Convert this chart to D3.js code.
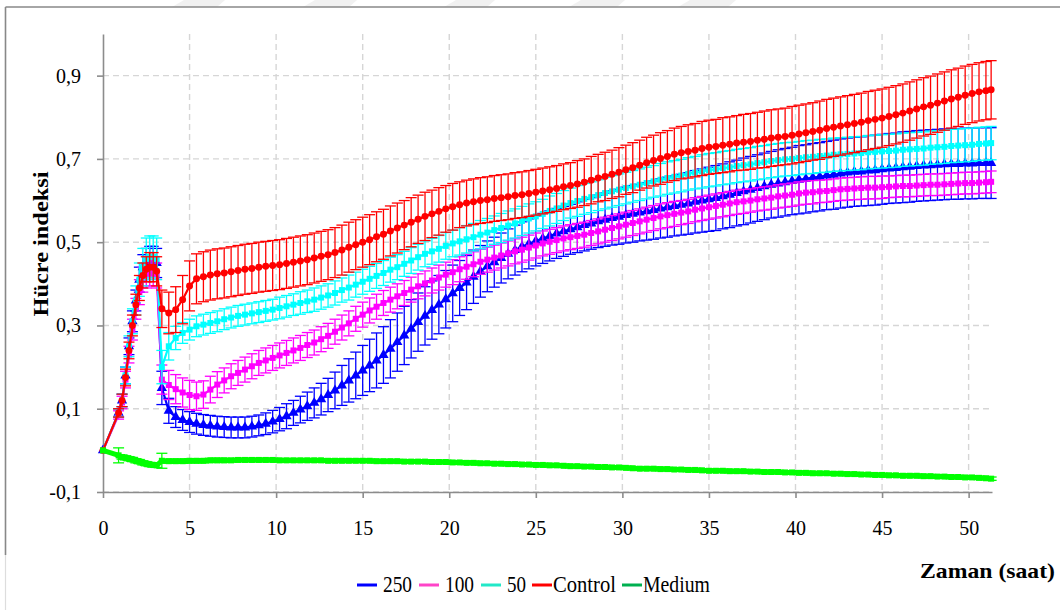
<!DOCTYPE html>
<html><head><meta charset="utf-8">
<script src="https://cdn.jsdelivr.net/npm/d3@7"></script>
<style>
body{margin:0;background:#fff}
.serif{font-family:"Liberation Serif","Times New Roman",Times,Tinos,"Nimbus Roman","Nimbus Roman No9 L",FreeSerif,"DejaVu Serif","Noto Serif",Georgia,serif}
</style>
</head><body><svg id="c" width="1060" height="610"></svg>
<script>
// ---------------- DATA ----------------
const times = [0,0.9,1.1,1.3,1.5,1.7,1.9,2.1,2.3,2.5,2.7,2.9,3.1,
 3.4,3.8,4.2,4.6,5.0,5.4,5.8,6.2,6.6,7.0,
 7.4,7.8,8.2,8.6,9.0,9.4,9.8,10.2,10.6,11.0,
 11.4,11.8,12.2,12.6,13.0,13.4,13.8,14.2,14.6,15.0,
 15.4,15.8,16.2,16.6,17.0,17.4,17.8,18.2,18.6,19.0,
 19.4,19.8,20.2,20.6,21.0,21.4,21.8,22.2,22.6,23.0,
 23.4,23.8,24.2,24.6,25.0,25.4,25.8,26.2,26.6,27.0,
 27.4,27.8,28.2,28.6,29.0,29.4,29.8,30.2,30.6,31.0,
 31.4,31.8,32.2,32.6,33.0,33.4,33.8,34.2,34.6,35.0,
 35.4,35.8,36.2,36.6,37.0,37.4,37.8,38.2,38.6,39.0,
 39.4,39.8,40.2,40.6,41.0,41.4,41.8,42.2,42.6,43.0,
 43.4,43.8,44.2,44.6,45.0,45.4,45.8,46.2,46.6,47.0,
 47.4,47.8,48.2,48.6,49.0,49.4,49.8,50.2,50.6,51.0,
 51.3];

const seriesNames = ["250","100","50","Control","Medium"];

const v250 = [0,0.09,0.12,0.18,0.25,0.31,0.36,0.41,0.44,0.45,0.455,0.455,0.45,
 0.15,0.095,0.08,0.073,0.068,0.064,0.061,0.059,0.057,0.056,
 0.055,0.055,0.055,0.057,0.06,0.064,0.069,0.075,0.082,0.09,
 0.098,0.106,0.114,0.123,0.133,0.144,0.156,0.168,0.18,0.192,
 0.204,0.216,0.229,0.244,0.26,0.276,0.292,0.308,0.323,0.337,
 0.35,0.363,0.377,0.39,0.403,0.417,0.43,0.442,0.452,0.462,
 0.472,0.481,0.489,0.496,0.503,0.509,0.515,0.521,0.526,0.531,
 0.536,0.541,0.545,0.55,0.554,0.558,0.561,0.565,0.568,0.571,
 0.574,0.577,0.581,0.584,0.587,0.59,0.593,0.597,0.6,0.603,
 0.606,0.61,0.614,0.618,0.622,0.626,0.63,0.634,0.638,0.641,
 0.644,0.647,0.65,0.652,0.655,0.657,0.66,0.662,0.665,0.667,
 0.669,0.67,0.672,0.673,0.675,0.677,0.678,0.68,0.681,0.683,
 0.684,0.685,0.686,0.687,0.688,0.688,0.689,0.689,0.69,0.69,
 0.69];
const e250 = [0,0.01,0.015,0.02,0.02,0.025,0.025,0.03,0.03,0.035,0.035,0.035,0.035,
 0.04,0.03,0.025,0.025,0.025,0.025,0.025,0.025,0.025,0.025,
 0.025,0.025,0.025,0.025,0.025,0.026,0.027,0.028,0.03,0.03,
 0.032,0.034,0.036,0.038,0.04,0.044,0.048,0.052,0.056,0.06,
 0.063,0.066,0.068,0.07,0.07,0.07,0.07,0.07,0.07,0.07,
 0.07,0.069,0.068,0.066,0.065,0.064,0.062,0.061,0.06,0.06,
 0.06,0.06,0.06,0.06,0.06,0.06,0.06,0.06,0.06,0.06,
 0.061,0.062,0.062,0.063,0.064,0.065,0.066,0.067,0.068,0.068,
 0.069,0.07,0.071,0.072,0.072,0.073,0.074,0.075,0.076,0.077,
 0.078,0.078,0.079,0.079,0.08,0.08,0.08,0.08,0.08,0.081,
 0.081,0.081,0.082,0.082,0.082,0.082,0.082,0.083,0.083,0.083,
 0.083,0.083,0.084,0.084,0.084,0.084,0.084,0.085,0.085,0.085,
 0.085,0.085,0.085,0.085,0.085,0.085,0.085,0.085,0.085,0.085,
 0.085];

const v100 = [0,0.085,0.115,0.17,0.23,0.29,0.34,0.38,0.41,0.42,0.425,0.425,0.42,
 0.17,0.157,0.147,0.139,0.133,0.13,0.134,0.146,0.158,0.168,
 0.178,0.186,0.194,0.202,0.21,0.216,0.222,0.228,0.234,0.24,
 0.246,0.253,0.259,0.267,0.275,0.285,0.295,0.305,0.316,0.326,
 0.336,0.345,0.354,0.362,0.37,0.378,0.386,0.394,0.401,0.408,
 0.415,0.422,0.428,0.435,0.441,0.447,0.453,0.458,0.463,0.468,
 0.473,0.478,0.482,0.487,0.492,0.497,0.501,0.505,0.509,0.512,
 0.515,0.518,0.522,0.526,0.53,0.534,0.538,0.542,0.546,0.55,
 0.554,0.558,0.562,0.565,0.568,0.571,0.574,0.578,0.581,0.584,
 0.587,0.59,0.593,0.596,0.598,0.6,0.603,0.605,0.607,0.61,
 0.612,0.614,0.617,0.619,0.62,0.622,0.623,0.625,0.627,0.628,
 0.629,0.63,0.631,0.631,0.632,0.633,0.634,0.635,0.635,0.636,
 0.637,0.638,0.638,0.639,0.64,0.641,0.642,0.642,0.643,0.644,
 0.645];
const e100 = [0,0.01,0.015,0.02,0.02,0.025,0.025,0.03,0.03,0.03,0.03,0.03,0.03,
 0.035,0.035,0.035,0.035,0.035,0.034,0.033,0.032,0.031,0.03,
 0.03,0.03,0.03,0.03,0.03,0.03,0.03,0.03,0.03,0.03,
 0.03,0.03,0.03,0.03,0.03,0.03,0.03,0.03,0.03,0.03,
 0.03,0.03,0.03,0.03,0.03,0.03,0.03,0.03,0.03,0.03,
 0.03,0.03,0.03,0.03,0.03,0.03,0.03,0.03,0.03,0.03,
 0.03,0.03,0.03,0.03,0.03,0.03,0.03,0.03,0.03,0.03,
 0.03,0.03,0.03,0.03,0.03,0.03,0.03,0.03,0.03,0.03,
 0.03,0.03,0.03,0.03,0.03,0.029,0.029,0.029,0.029,0.029,
 0.029,0.029,0.029,0.029,0.029,0.028,0.028,0.028,0.028,0.028,
 0.028,0.028,0.028,0.028,0.028,0.027,0.027,0.027,0.027,0.027,
 0.027,0.027,0.027,0.027,0.027,0.026,0.026,0.026,0.026,0.026,
 0.026,0.026,0.026,0.026,0.026,0.026,0.026,0.026,0.026,0.026,
 0.026];

const v50 = [0,0.09,0.12,0.18,0.25,0.31,0.36,0.41,0.44,0.46,0.465,0.465,0.46,
 0.20,0.25,0.27,0.282,0.29,0.298,0.302,0.306,0.31,0.315,
 0.319,0.323,0.326,0.329,0.332,0.335,0.338,0.342,0.346,0.35,
 0.354,0.358,0.362,0.367,0.372,0.378,0.385,0.391,0.398,0.405,
 0.412,0.419,0.426,0.434,0.44,0.448,0.456,0.464,0.472,0.478,
 0.484,0.491,0.497,0.502,0.507,0.512,0.518,0.523,0.529,0.534,
 0.54,0.545,0.551,0.557,0.562,0.568,0.575,0.581,0.588,0.594,
 0.599,0.604,0.608,0.613,0.618,0.622,0.626,0.63,0.634,0.638,
 0.642,0.646,0.65,0.654,0.657,0.66,0.664,0.667,0.67,0.673,
 0.675,0.678,0.68,0.683,0.685,0.687,0.69,0.692,0.695,0.697,
 0.699,0.7,0.702,0.704,0.705,0.707,0.708,0.71,0.711,0.712,
 0.713,0.714,0.716,0.717,0.718,0.719,0.72,0.722,0.723,0.724,
 0.725,0.727,0.728,0.729,0.731,0.732,0.733,0.734,0.736,0.737,
 0.738];
const e50 = [0,0.01,0.015,0.02,0.025,0.03,0.035,0.04,0.045,0.05,0.05,0.05,0.05,
 0.04,0.033,0.028,0.025,0.025,0.025,0.025,0.025,0.025,0.025,
 0.025,0.025,0.025,0.025,0.025,0.025,0.025,0.026,0.026,0.026,
 0.027,0.027,0.028,0.028,0.028,0.029,0.029,0.03,0.03,0.03,
 0.03,0.03,0.03,0.03,0.03,0.03,0.031,0.031,0.031,0.031,
 0.032,0.032,0.032,0.033,0.033,0.033,0.034,0.034,0.034,0.035,
 0.035,0.035,0.035,0.035,0.035,0.035,0.036,0.036,0.036,0.036,
 0.037,0.037,0.037,0.037,0.038,0.038,0.038,0.038,0.038,0.038,
 0.038,0.038,0.039,0.039,0.039,0.039,0.039,0.039,0.04,0.04,
 0.04,0.04,0.04,0.04,0.04,0.04,0.04,0.04,0.04,0.04,
 0.04,0.04,0.04,0.04,0.04,0.04,0.04,0.04,0.04,0.04,
 0.04,0.04,0.04,0.04,0.04,0.04,0.04,0.04,0.04,0.04,
 0.04,0.04,0.04,0.04,0.04,0.04,0.04,0.04,0.04,0.04,
 0.04];

const vControl = [0,0.09,0.12,0.175,0.24,0.30,0.35,0.39,0.42,0.435,0.44,0.44,0.43,
 0.34,0.33,0.338,0.362,0.395,0.412,0.417,0.421,0.424,0.426,
 0.429,0.432,0.435,0.437,0.44,0.442,0.444,0.446,0.449,0.452,
 0.455,0.458,0.462,0.466,0.47,0.475,0.481,0.488,0.494,0.50,
 0.506,0.513,0.519,0.527,0.534,0.541,0.548,0.555,0.562,0.568,
 0.574,0.58,0.585,0.59,0.594,0.597,0.6,0.602,0.605,0.607,
 0.609,0.612,0.614,0.617,0.62,0.623,0.626,0.629,0.633,0.636,
 0.64,0.644,0.649,0.654,0.658,0.663,0.668,0.674,0.679,0.685,
 0.691,0.696,0.701,0.706,0.711,0.715,0.718,0.721,0.725,0.728,
 0.73,0.733,0.735,0.738,0.74,0.742,0.745,0.747,0.75,0.752,
 0.754,0.757,0.76,0.763,0.766,0.769,0.773,0.776,0.779,0.782,
 0.785,0.788,0.792,0.795,0.798,0.802,0.806,0.81,0.815,0.82,
 0.825,0.829,0.834,0.839,0.844,0.848,0.853,0.857,0.861,0.864,
 0.866];
const eControl = [0,0.01,0.015,0.02,0.02,0.025,0.025,0.03,0.03,0.03,0.035,0.035,0.035,
 0.045,0.05,0.055,0.058,0.06,0.06,0.06,0.06,0.06,0.06,
 0.06,0.06,0.06,0.06,0.06,0.06,0.06,0.06,0.06,0.06,
 0.06,0.06,0.06,0.06,0.06,0.06,0.06,0.06,0.06,0.06,
 0.06,0.06,0.06,0.06,0.06,0.059,0.059,0.058,0.058,0.057,
 0.057,0.056,0.056,0.055,0.055,0.055,0.055,0.055,0.055,0.055,
 0.055,0.055,0.055,0.055,0.055,0.055,0.055,0.055,0.055,0.055,
 0.056,0.056,0.057,0.057,0.058,0.058,0.059,0.059,0.06,0.06,
 0.061,0.061,0.062,0.062,0.063,0.063,0.064,0.064,0.065,0.065,
 0.065,0.066,0.066,0.066,0.067,0.067,0.067,0.068,0.068,0.068,
 0.068,0.069,0.069,0.069,0.069,0.07,0.07,0.07,0.07,0.07,
 0.07,0.07,0.07,0.07,0.07,0.07,0.07,0.07,0.07,0.07,
 0.07,0.07,0.07,0.07,0.07,0.07,0.07,0.07,0.07,0.07,
 0.07];

const vMedium = [0,-0.012,-0.016,-0.018,-0.02,-0.022,-0.025,-0.027,-0.03,-0.032,-0.034,-0.035,-0.036,
 -0.025,-0.026,-0.026,-0.026,-0.025,-0.025,-0.025,-0.024,-0.024,-0.024,
 -0.024,-0.023,-0.023,-0.023,-0.023,-0.023,-0.023,-0.024,-0.024,-0.024,
 -0.024,-0.024,-0.024,-0.024,-0.025,-0.025,-0.025,-0.025,-0.025,-0.025,
 -0.025,-0.026,-0.026,-0.026,-0.026,-0.027,-0.027,-0.027,-0.027,-0.028,
 -0.028,-0.028,-0.029,-0.029,-0.03,-0.03,-0.031,-0.031,-0.032,-0.032,
 -0.033,-0.033,-0.034,-0.034,-0.035,-0.035,-0.036,-0.036,-0.037,-0.038,
 -0.038,-0.039,-0.039,-0.04,-0.04,-0.041,-0.041,-0.042,-0.043,-0.044,
 -0.044,-0.044,-0.045,-0.045,-0.046,-0.046,-0.047,-0.047,-0.048,-0.049,
 -0.049,-0.049,-0.05,-0.05,-0.05,-0.051,-0.051,-0.052,-0.052,-0.052,
 -0.053,-0.053,-0.054,-0.054,-0.055,-0.055,-0.055,-0.056,-0.056,-0.057,
 -0.057,-0.058,-0.058,-0.059,-0.059,-0.06,-0.06,-0.061,-0.061,-0.061,
 -0.062,-0.062,-0.063,-0.063,-0.064,-0.064,-0.065,-0.065,-0.066,-0.067,
 -0.068];
const eMedium = [0,0.018,0.005,0.005,0.005,0.005,0.005,0.005,0.005,0.005,0.005,0.005,0.005,
 0.018,0.005,0.005,0.005,0.005,0.005,0.005,0.005,0.005,0.005,
 0.004,0.004,0.004,0.004,0.004,0.004,0.004,0.004,0.004,0.004,
 0.004,0.004,0.004,0.004,0.004,0.004,0.004,0.004,0.004,0.004,
 0.004,0.004,0.004,0.004,0.004,0.004,0.004,0.004,0.004,0.004,
 0.004,0.004,0.004,0.004,0.004,0.004,0.004,0.004,0.004,0.004,
 0.004,0.004,0.004,0.004,0.004,0.004,0.004,0.004,0.004,0.004,
 0.004,0.004,0.004,0.004,0.004,0.004,0.004,0.004,0.004,0.004,
 0.004,0.004,0.004,0.004,0.004,0.004,0.004,0.004,0.004,0.004,
 0.004,0.004,0.004,0.004,0.004,0.004,0.004,0.004,0.004,0.004,
 0.004,0.004,0.004,0.004,0.004,0.004,0.004,0.004,0.004,0.004,
 0.004,0.004,0.004,0.004,0.004,0.004,0.004,0.004,0.004,0.004,
 0.004,0.004,0.004,0.004,0.004,0.004,0.004,0.004,0.004,0.004,
 0.004];

const yTickValues = [-0.1, 0.1, 0.3, 0.5, 0.7, 0.9];
const xTickValues = [0, 5, 10, 15, 20, 25, 30, 35, 40, 45, 50];
const yTitle = "Hücre indeksi";
const xTitle = "Zaman (saat)";

// ---------------- STYLE ----------------
const seriesValues = [v250, v100, v50, vControl, vMedium];
const seriesErrors = [e250, e100, e50, eControl, eMedium];
const colors = ["#0000ff", "#ff00ff", "#00ffff", "#ff0000", "#00ff00"];
const legendColors = ["#0000ff", "#ff44c8", "#22e8c8", "#ff0000", "#00b050"];
const symbols = [d3.symbolTriangle, d3.symbolSquare, d3.symbolSquare, d3.symbolCircle, d3.symbolSquare];
const symbolSizes = [46, 36, 36, 38, 36];
const lineWidths = [2.2, 2.2, 2.2, 2.2, 5];

const svg = d3.select("#c");
svg.append("rect").attr("width", 1060).attr("height", 610).attr("fill", "#fff");

// faint watermark shapes above the frame
const wm = svg.append("g").attr("fill", "#f1f1f1");
[[172, 225], [303, 357], [444, 495], [569, 625], [678, 736]].forEach(([a, b]) => {
  wm.append("path").attr("d", `M${a},7 L${a + 12},0 L${b},0 L${b - 8},7 Z`);
});

// frame (partially cropped border)
svg.append("line").attr("x1", 5.5).attr("x2", 1060).attr("y1", 7).attr("y2", 7)
  .attr("stroke", "#888").attr("stroke-width", 1.6);
svg.append("line").attr("x1", 5.5).attr("x2", 5.5).attr("y1", 7).attr("y2", 555)
  .attr("stroke", "#888").attr("stroke-width", 1.6);
svg.append("line").attr("x1", 5.5).attr("x2", 5.5).attr("y1", 555).attr("y2", 610)
  .attr("stroke", "#ddd").attr("stroke-width", 1.2);

const x = d3.scaleLinear().domain([0, 51.35]).range([103, 992]);
const y = d3.scaleLinear().domain([-0.1, 1.0]).range([492, 34]);

// grid
const grid = svg.append("g").attr("stroke", "#d6d6d6").attr("stroke-width", 1.4)
  .attr("stroke-dasharray", "6,4");
grid.selectAll("line.h").data(yTickValues).join("line").attr("class", "h")
  .attr("x1", x(0)).attr("x2", x.range()[1]).attr("y1", d => y(d)).attr("y2", d => y(d));
grid.selectAll("line.v").data(xTickValues.filter(d => d > 0)).join("line").attr("class", "v")
  .attr("x1", d => x(d)).attr("x2", d => x(d)).attr("y1", y.range()[1]).attr("y2", y(-0.1));

// axes
const loc = d3.formatLocale({decimal: ",", thousands: ".", grouping: [3], currency: ["", ""], minus: "-"});
const fmt = loc.format(".1f");
const yAxis = svg.append("g").attr("transform", `translate(${x(0)},0)`)
  .call(d3.axisLeft(y).tickValues(yTickValues).tickSize(6).tickSizeOuter(0).tickPadding(16).tickFormat(fmt));
const xAxis = svg.append("g").attr("transform", `translate(0,${y(-0.1)})`)
  .call(d3.axisBottom(x).tickValues(xTickValues).tickSize(6).tickSizeOuter(0).tickFormat(d3.format("d")));
[yAxis, xAxis].forEach(a => {
  a.attr("font-family", null);
  a.select(".domain").attr("stroke", "#8c8c8c").attr("stroke-width", 1.6);
  a.selectAll(".tick line").attr("stroke", "#8c8c8c").attr("stroke-width", 1.6);
  a.selectAll("text").attr("class", "serif").attr("font-size", 20).attr("fill", "#000");
});
xAxis.selectAll(".tick text").attr("y", 43).attr("dy", 0);

// series
const plot = svg.append("g");
seriesValues.forEach((vals, si) => {
  const pts = times.map((t, i) => ({t, v: vals[i], e: seriesErrors[si][i]}));
  const withErr = pts.filter(p => p.e > 0);
  const g = plot.append("g");
  const eb = g.append("g").attr("stroke", colors[si]).attr("stroke-width", 1.3);
  eb.selectAll("line.v").data(withErr).join("line").attr("class", "v")
    .attr("x1", p => x(p.t)).attr("x2", p => x(p.t))
    .attr("y1", p => y(p.v - p.e)).attr("y2", p => y(p.v + p.e));
  eb.selectAll("line.t").data(withErr).join("line").attr("class", "t")
    .attr("x1", p => x(p.t) - 5.5).attr("x2", p => x(p.t) + 5.5)
    .attr("y1", p => y(p.v + p.e)).attr("y2", p => y(p.v + p.e));
  eb.selectAll("line.b").data(withErr).join("line").attr("class", "b")
    .attr("x1", p => x(p.t) - 5.5).attr("x2", p => x(p.t) + 5.5)
    .attr("y1", p => y(p.v - p.e)).attr("y2", p => y(p.v - p.e));
  g.append("path").datum(pts)
    .attr("d", d3.line().x(p => x(p.t)).y(p => y(p.v)))
    .attr("fill", "none").attr("stroke", colors[si]).attr("stroke-width", lineWidths[si]);
  const sym = d3.symbol().type(symbols[si]).size(symbolSizes[si]);
  g.selectAll("path.m").data(pts).join("path").attr("class", "m")
    .attr("transform", p => `translate(${x(p.t)},${y(p.v)})`)
    .attr("d", sym).attr("fill", colors[si]);
});

// titles
svg.append("text").attr("class", "serif").attr("transform", "translate(48,244) rotate(-90)")
  .attr("text-anchor", "middle").attr("font-weight", "bold")
  .attr("font-size", 22).attr("textLength", 145).attr("lengthAdjust", "spacingAndGlyphs").text(yTitle);
svg.append("text").attr("class", "serif").attr("x", 920).attr("y", 578)
  .attr("font-weight", "bold").attr("font-size", 22)
  .attr("textLength", 135).attr("lengthAdjust", "spacingAndGlyphs").text(xTitle);

// legend
const legendLineX = [357, 419, 481, 532, 622];
const legendTextX = [383, 445, 507, 553, 643];
const legendTextW = [29, 29, 19, 63, 67];
const leg = svg.append("g");
seriesNames.forEach((name, i) => {
  leg.append("line").attr("x1", legendLineX[i]).attr("x2", legendLineX[i] + 20)
    .attr("y1", 585).attr("y2", 585).attr("stroke", legendColors[i]).attr("stroke-width", 3);
  leg.append("text").attr("class", "serif").attr("x", legendTextX[i]).attr("y", 592)
    .attr("textLength", legendTextW[i]).attr("lengthAdjust", "spacingAndGlyphs")
    .attr("font-size", 23).attr("fill", "#000").text(name);
});
</script>
</body></html>
